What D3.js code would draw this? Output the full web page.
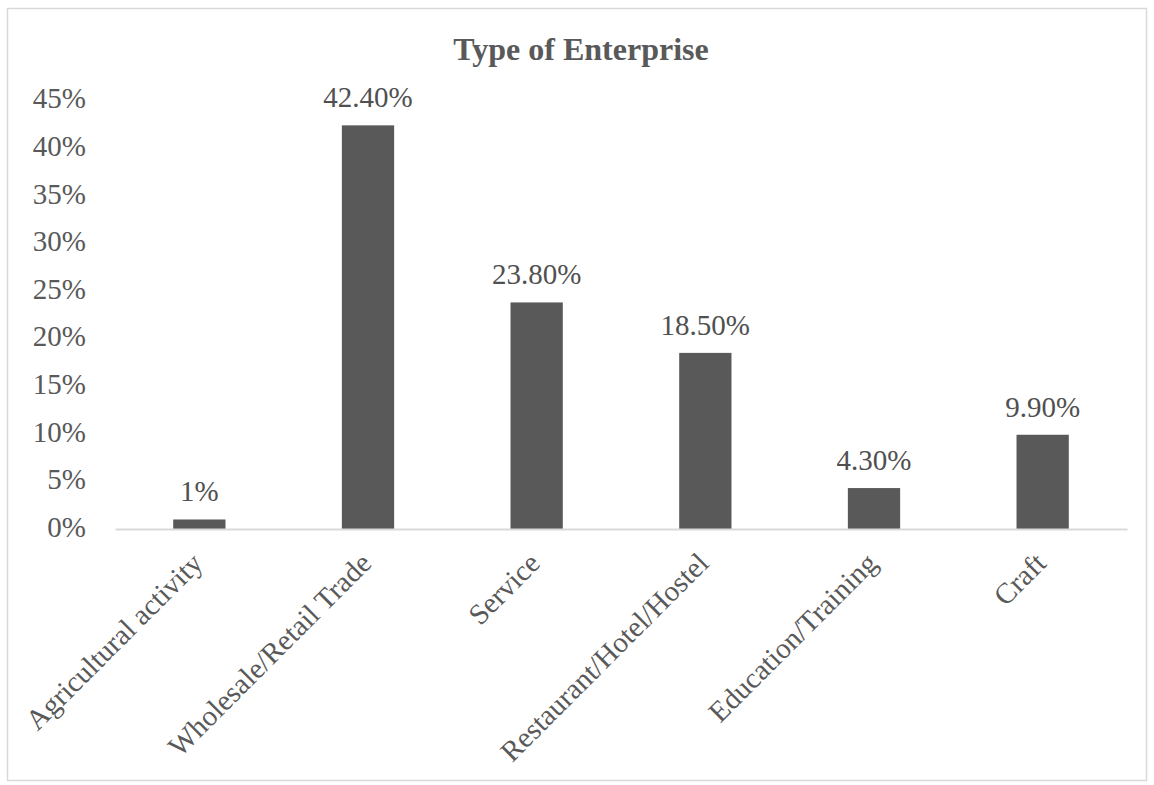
<!DOCTYPE html>
<html><head><meta charset="utf-8">
<script src="https://cdn.jsdelivr.net/npm/d3@7"></script>
<style>body{margin:0;background:#fff;}svg{display:block;}</style>
</head><body>
<svg id="c" width="1154" height="785"></svg>
<script>
const categories = ["Agricultural activity","Wholesale/Retail Trade","Service","Restaurant/Hotel/Hostel","Education/Training","Craft"];
const values = [1, 42.4, 23.8, 18.5, 4.3, 9.9];
const valueLabels = ["1%","42.40%","23.80%","18.50%","4.30%","9.90%"];
const yTicks = [0,5,10,15,20,25,30,35,40,45];
const title = "Type of Enterprise";

(function(){
const svg = d3.select("#c");
const font = "'Liberation Serif','Times New Roman',serif";
svg.append("rect").attr("x",7.5).attr("y",8.5).attr("width",1139).attr("height",772)
  .attr("fill","#fff").attr("stroke","#d9d9d9").attr("stroke-width",1.5);

const mL=115, mR=1127, mT=100.6, mB=529;
const x = d3.scaleBand().domain(categories).range([mL,mR]).paddingInner(0.69).paddingOuter(0.345);
const y = d3.scaleLinear().domain([0,45]).range([mB,mT]);

svg.append("text").attr("x",581).attr("y",60).attr("text-anchor","middle")
  .attr("font-family",font).attr("font-weight","bold").attr("font-size",32).attr("fill","#595959").text(title);

const yAxis = svg.append("g").attr("transform",`translate(${mL},0)`)
  .call(d3.axisLeft(y).tickValues(yTicks).tickSize(0).tickPadding(29).tickFormat(d=>d+"%"));
yAxis.select(".domain").remove();
yAxis.selectAll("text").attr("font-family",font).attr("font-size",29).attr("fill","#595959").attr("dy","0.25em");

svg.selectAll("rect.bar").data(values).join("rect").attr("class","bar")
  .attr("x",(d,i)=>x(categories[i])).attr("width",x.bandwidth())
  .attr("y",d=>y(d)).attr("height",d=>y(0)-y(d)).attr("fill","#595959");

const xAxis = svg.append("g").attr("transform",`translate(0,${mB})`)
  .call(d3.axisBottom(x).tickSize(0).tickPadding(0));
xAxis.select(".domain").attr("stroke","#d9d9d9").attr("stroke-width",2);
xAxis.selectAll("text").attr("font-family",font).attr("font-size",29).attr("fill","#595959")
  .attr("text-anchor","end").attr("dy",0).attr("y",0).attr("transform","translate(5,36) rotate(-45)");

svg.selectAll("text.lbl").data(values).join("text").attr("class","lbl")
  .attr("x",(d,i)=>x(categories[i])+x.bandwidth()/2).attr("y",d=>y(d)-18)
  .attr("text-anchor","middle").attr("font-family",font).attr("font-size",29).attr("fill","#505050")
  .text((d,i)=>valueLabels[i]);
})();
</script>
</body></html>
